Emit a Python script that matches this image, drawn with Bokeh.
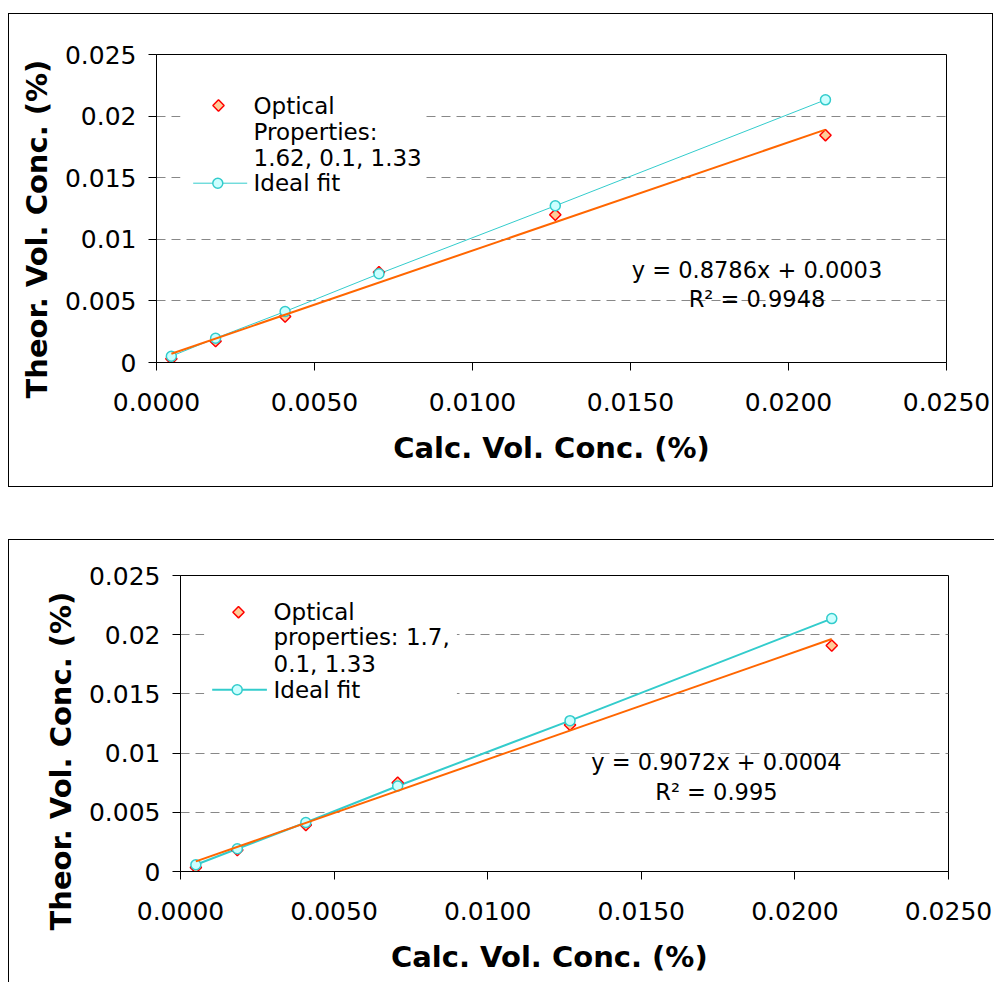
import numpy as np
from bokeh.plotting import figure
from bokeh.models import FixedTicker, Range1d, Label, Title
from bokeh.embed import file_html
from bokeh.resources import INLINE
from bokeh.core.properties import value

# ---------------- data ----------------
calc_top = [0.00047, 0.00187, 0.00407, 0.00704, 0.01262, 0.02117]
optical_top = [0.00030, 0.00173, 0.00373, 0.00733, 0.01199, 0.01845]
ideal_top = [0.00051, 0.00197, 0.00414, 0.00720, 0.01272, 0.02132]
fit_top_slope = 0.8786
fit_top_intercept = 0.0003
fit_top_r2 = "0.9948"
legend_top_series = ["Optical", "Properties:", "1.62, 0.1, 1.33"]

calc_bottom = [0.00050, 0.00185, 0.00408, 0.00707, 0.01268, 0.02120]
optical_bottom = [0.00034, 0.00181, 0.00392, 0.00750, 0.01238, 0.01908]
ideal_bottom = [0.00057, 0.00192, 0.00414, 0.00722, 0.01274, 0.02136]
fit_bottom_slope = 0.9072
fit_bottom_intercept = 0.0004
fit_bottom_r2 = "0.995"
legend_bottom_series = ["Optical", "properties: 1.7,", "0.1, 1.33"]

legend_ideal = "Ideal fit"

x_ticks = [0.0, 0.005, 0.010, 0.015, 0.020, 0.025]
x_tick_labels = ["0.0000", "0.0050", "0.0100", "0.0150", "0.0200", "0.0250"]
y_ticks = [0.0, 0.005, 0.010, 0.015, 0.020, 0.025]
y_tick_labels = ["0", "0.005", "0.01", "0.015", "0.02", "0.025"]
x_label = "Calc. Vol. Conc. (%)"
y_label = "Theor. Vol. Conc. (%)"

X_MAX = 0.025
Y_MAX = 0.025

FONT = "DejaVu Sans"
ORANGE = "#FF6600"
CYAN = "#33CCCC"
CYAN_FILL = "#CCFFFF"
RED = "#FF0000"
DIAMOND_FILL = "#FFCC99"
NBSP = "\u00a0"


def make_chart(calc, optical, ideal, slope, intercept, r2, legend_lines, g):
    fw = g["W"] - g["left"] - g["right"]
    fh = g["H"] - g["top"] - g["bottom"]

    def dx(px):
        return px / fw * X_MAX

    def dy(py):
        return Y_MAX - py / fh * Y_MAX

    p = figure(width=g["W"], height=g["H"], output_backend="svg", toolbar_location=None,
               x_range=Range1d(0, X_MAX), y_range=Range1d(0, Y_MAX),
               min_border_left=g["left"], min_border_right=g["right"],
               min_border_top=g["top"], min_border_bottom=g["bottom"],
               background_fill_color="white", border_fill_color="white")
    p.margin = g["margin"]
    p.styles = g["styles"]
    p.outline_line_color = "black"
    p.outline_line_width = 1
    p.outline_line_alpha = 1.0

    p.xaxis.ticker = FixedTicker(ticks=x_ticks)
    p.yaxis.ticker = FixedTicker(ticks=y_ticks)
    p.xaxis.major_label_overrides = {t: l for t, l in zip(x_ticks, x_tick_labels)}
    p.yaxis.major_label_overrides = {t: l for t, l in zip(y_ticks, y_tick_labels)}
    for ax in (p.xaxis[0], p.yaxis[0]):
        ax.axis_line_color = "black"
        ax.major_tick_line_color = "black"
        ax.major_tick_out = 8
        ax.major_tick_in = 0
        ax.minor_tick_out = 0
        ax.minor_tick_in = 0
        ax.major_label_text_font = FONT
        ax.major_label_text_font_size = "25px"
        ax.major_label_text_color = "black"
        ax.axis_label_text_font = FONT
        ax.axis_label_text_font_size = "29px"
        ax.axis_label_text_font_style = "bold"
        ax.axis_label_text_color = "black"
    p.xaxis.major_label_standoff = 22
    p.yaxis.major_label_standoff = 12
    p.xaxis.axis_label = x_label + NBSP * g["xlab_pad"]
    p.xaxis.axis_label_standoff = 17

    # y axis title, placed along the axis like the original
    p.add_layout(Title(text=y_label, align="left", offset=g["ylab_offset"], standoff=15,
                       text_font=FONT, text_font_size="29px", text_font_style="bold",
                       text_color="black"), "left")

    p.xgrid.visible = False
    p.ygrid.grid_line_color = "#888888"
    p.ygrid.grid_line_dash = "9 6"
    p.ygrid.grid_line_width = 1

    # legend background (hides the grid like the original)
    p.quad(left=[dx(g["leg_bg"][0])], right=[dx(g["leg_bg"][1])],
           top=[dy(g["leg_bg"][2])], bottom=[dy(g["leg_bg"][3])],
           fill_color="white", line_color=None)

    # ideal fit series
    p.line(calc, ideal, line_color=CYAN, line_width=g["ideal_w"])
    # optical properties (diamonds)
    p.scatter(calc, optical, marker="square", angle=np.pi / 4, size=8,
              fill_color=DIAMOND_FILL, line_color=RED, line_width=1.5)
    p.scatter(calc, ideal, marker="circle", size=10,
              fill_color=CYAN_FILL, line_color=CYAN, line_width=1.5)
    # linear trendline
    xs = np.array([min(calc), max(calc)])
    p.line(xs, slope * xs + intercept, line_color=ORANGE, line_width=2)

    # legend
    rows = g["leg_rows"]
    p.scatter([dx(g["leg_marker_x"])], [dy(rows[0])], marker="square", angle=np.pi / 4,
              size=8, fill_color=DIAMOND_FILL, line_color=RED, line_width=1.5)
    p.line([dx(g["leg_line"][0]), dx(g["leg_line"][1])], [dy(rows[3]), dy(rows[3])],
           line_color=CYAN, line_width=g["ideal_w"])
    p.scatter([dx(g["leg_circle_x"])], [dy(rows[3])], marker="circle", size=10,
              fill_color=CYAN_FILL, line_color=CYAN, line_width=1.5)
    texts = list(legend_lines) + [legend_ideal]
    p.text(x=[dx(g["leg_text_x"])] * 4, y=[dy(r) for r in rows], text=texts,
           text_font=value(FONT), text_font_size="23px", text_color="black",
           text_align="left", text_baseline="middle")

    # trendline equation
    eq1 = f"y = {slope}x + {intercept}"
    eq2 = f"R\u00b2 = {r2}"
    for txt, ry in ((eq1, g["eq_rows"][0]), (eq2, g["eq_rows"][1])):
        p.add_layout(Label(x=dx(g["eq_x"]), y=dy(ry), text=txt, text_font=FONT,
                           text_font_size="22.5px", text_color="black",
                           text_align="center", text_baseline="middle"))
    return p


geom_top = dict(W=985, H=474, left=147, right=48, top=40, bottom=126,
                margin=(13, 0, 0, 8),
                styles={"border": "1px solid black"},
                ideal_w=1, xlab_pad=0, ylab_offset=-36,
                leg_bg=(24, 266, 35, 142), leg_rows=(51, 77.7, 103.3, 128.7),
                leg_marker_x=62, leg_text_x=97, leg_line=(36.7, 90.7), leg_circle_x=61.3,
                eq_x=600.5, eq_rows=(215.3, 244.3))

geom_bottom = dict(W=986, H=443, left=171, right=47, top=35, bottom=112,
                   margin=(52, 0, 0, 8),
                   styles={"border-left": "1px solid black", "border-top": "1px solid black"},
                   ideal_w=2, xlab_pad=3, ylab_offset=-59,
                   leg_bg=(23.7, 276.4, 20, 128), leg_rows=(36.7, 61.7, 88.3, 114.3),
                   leg_marker_x=58, leg_text_x=93, leg_line=(31.7, 86.4), leg_circle_x=56.7,
                   eq_x=535.9, eq_rows=(186.7, 216))

p_top = make_chart(calc_top, optical_top, ideal_top, fit_top_slope, fit_top_intercept,
                   fit_top_r2, legend_top_series, geom_top)
p_bottom = make_chart(calc_bottom, optical_bottom, ideal_bottom, fit_bottom_slope,
                      fit_bottom_intercept, fit_bottom_r2, legend_bottom_series, geom_bottom)

open("out.html", "w").write(file_html([p_top, p_bottom], INLINE))
